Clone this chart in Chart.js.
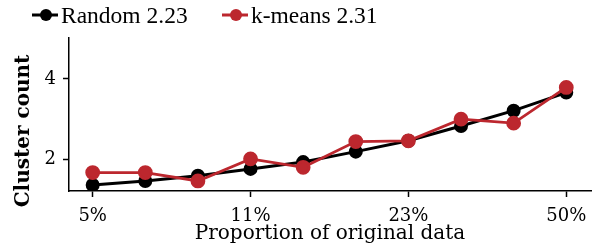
<!DOCTYPE html>
<html>
<head>
<meta charset="utf-8">
<script src="https://cdn.jsdelivr.net/npm/chart.js@4"></script>
<style>
html,body{margin:0;padding:0;background:#fff;}
#wrap{width:602px;height:246px;position:relative;}
</style>
</head>
<body>
<div id="wrap"><canvas id="c" width="602" height="246"></canvas></div>
<script>
const xPositions = [0, 1, 2, 3, 4, 5, 6, 7, 8, 9];
const tickLabels = {0: '5%', 3: '11%', 6: '23%', 9: '50%'};
const randomValues = [1.36, 1.46, 1.59, 1.76, 1.93, 2.19, 2.46, 2.83, 3.21, 3.66];
const kmeansValues = [1.67, 1.67, 1.46, 2.01, 1.80, 2.44, 2.46, 3.00, 2.90, 3.79];
const seriesNames = ['Random 2.23', 'k-means 2.31'];
const yTicks = [2, 4];
const xTitle = 'Proportion of original data';
const yTitle = 'Cluster count';

const RED = '#bc272e';
const SERIF = '"DejaVu Serif", serif';
const TIMES = '"Liberation Serif", "Times New Roman", serif';

const extras = {
  id: 'extras',
  afterDraw(chart) {
    const ctx = chart.ctx;
    const area = chart.chartArea;
    ctx.save();
    ctx.fillStyle = '#000';
    ctx.font = 'bold 20px ' + SERIF;
    ctx.textAlign = 'center';
    ctx.textBaseline = 'middle';
    ctx.translate(24, 131);
    ctx.rotate(-Math.PI / 2);
    ctx.fillText(yTitle, 0, 0);
    ctx.restore();
    ctx.save();
    ctx.fillStyle = '#000';
    ctx.font = '20px ' + SERIF;
    ctx.textAlign = 'center';
    ctx.textBaseline = 'middle';
    ctx.fillText(xTitle, (area.left + area.right) / 2, 234);
    const items = [
      {x: 32, color: '#000', text: seriesNames[0]},
      {x: 222, color: RED, text: seriesNames[1]}
    ];
    ctx.font = '23.5px ' + TIMES;
    ctx.textAlign = 'left';
    items.forEach(it => {
      const y = 15;
      ctx.strokeStyle = it.color;
      ctx.lineWidth = 3;
      ctx.beginPath();
      ctx.moveTo(it.x, y);
      ctx.lineTo(it.x + 26, y);
      ctx.stroke();
      ctx.fillStyle = it.color;
      ctx.beginPath();
      ctx.arc(it.x + 14, y, 6, 0, Math.PI * 2);
      ctx.fill();
      ctx.fillStyle = '#000';
      ctx.fillText(it.text, it.x + 29, y + 2);
    });
    ctx.restore();
  }
};

new Chart(document.getElementById('c'), {
  type: 'line',
  data: {
    datasets: [
      {
        label: seriesNames[0],
        data: xPositions.map((x, i) => ({x: x, y: randomValues[i]})),
        borderColor: '#000', backgroundColor: '#000',
        borderWidth: 3, pointRadius: 5.5, pointHoverRadius: 5.5, tension: 0, order: 2
      },
      {
        label: seriesNames[1],
        data: xPositions.map((x, i) => ({x: x, y: kmeansValues[i]})),
        borderColor: RED, backgroundColor: RED,
        borderWidth: 2.8, pointRadius: 6, pointHoverRadius: 6, tension: 0, order: 1
      }
    ]
  },
  options: {
    responsive: false,
    animation: false,
    events: [],
    layout: {padding: {top: 38, right: 11, left: 0, bottom: 0}},
    plugins: {legend: {display: false}, tooltip: {enabled: false}},
    scales: {
      x: {
        type: 'linear',
        min: -0.45, max: 9.47,
        afterBuildTicks: s => { s.ticks = Object.keys(tickLabels).map(v => ({value: +v})); },
        afterFit: s => { s.height = 55; },
        ticks: {
          callback: v => tickLabels[v] || '',
          color: '#000', font: {family: SERIF, size: 18}, padding: 9, maxRotation: 0, autoSkip: false
        },
        grid: {drawOnChartArea: false, drawTicks: true, tickLength: 6, tickWidth: 1.5, color: '#000'},
        border: {display: true, color: '#000', width: 1.5}
      },
      y: {
        type: 'linear',
        min: 1.21, max: 5.02,
        afterBuildTicks: s => { s.ticks = yTicks.map(v => ({value: v})); },
        afterFit: s => { s.width = 69; },
        ticks: {color: '#000', font: {family: SERIF, size: 18}, padding: 7},
        grid: {drawOnChartArea: false, drawTicks: true, tickLength: 6, tickWidth: 1.5, color: '#000'},
        border: {display: true, color: '#000', width: 1.5}
      }
    }
  },
  plugins: [extras]
});
</script>
</body>
</html>
